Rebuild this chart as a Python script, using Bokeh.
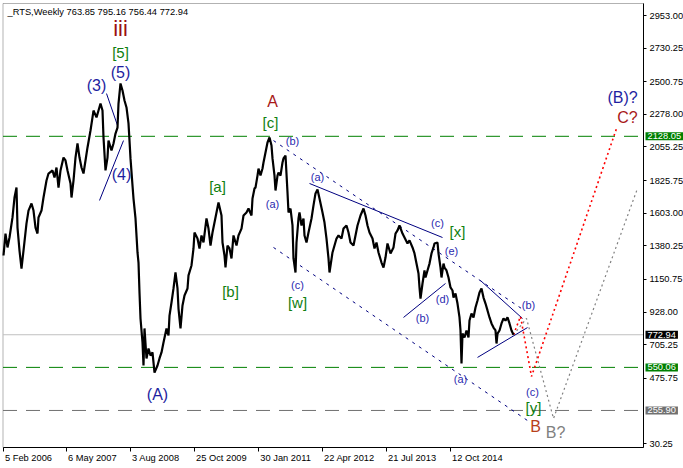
from bokeh.plotting import figure
from bokeh.models import Range1d, FixedTicker, PrintfTickFormatter, Label, ColumnDataSource, BoxAnnotation
from bokeh.core.properties import value
from bokeh.embed import file_html
from bokeh.resources import INLINE

# ---- weekly price path (bar index from 5 Feb 2006, price) ----
bars = [0, 2, 4, 6, 9, 11, 13, 14, 16, 18, 20, 23, 25, 28, 30, 32, 34, 35, 38, 40, 43, 45, 49, 51, 53, 55, 57, 60, 62, 64,
        67, 68, 70, 72, 74, 76, 78, 80, 82, 84, 87, 89, 90, 93, 95, 97, 99, 100, 102, 104, 105, 108, 110, 112, 114, 115, 117, 119, 121, 123,
        125, 126, 127, 129, 130, 132, 134, 135, 136, 137, 139, 140, 141, 143, 145, 147, 149, 151, 154, 156, 158, 160, 163, 165, 166, 168, 170, 172, 174, 175,
        177, 179, 181, 184, 185, 188, 190, 191, 194, 196, 198, 200, 203, 205, 207, 209, 211, 213, 215, 218, 219, 221, 222, 224, 226, 228, 230, 233, 235, 238,
        240, 243, 245, 248, 249, 251, 252, 254, 255, 257, 259, 260, 262, 264, 266, 268, 269, 271, 272, 274, 275, 277, 279, 280, 282, 284, 285, 287, 289, 290,
        292, 293, 295, 296, 298, 300, 301, 303, 305, 308, 310, 312, 314, 316, 319, 321, 323, 325, 326, 329, 331, 333, 335, 338, 340, 343, 345, 347, 350, 352,
        354, 357, 360, 362, 364, 366, 369, 371, 373, 375, 378, 380, 382, 384, 387, 390, 392, 394, 396, 399, 401, 404, 406, 409, 411, 413, 415, 416, 417, 419,
        421, 422, 424, 426, 428, 430, 431, 434, 435, 437, 438, 440, 441, 443, 445, 447, 449, 450, 452, 454, 456, 457, 458, 459, 461, 463, 465, 466, 468, 470,
        472, 474, 476, 478, 480, 482, 484, 486, 488, 490, 492, 493, 494, 496, 498, 500, 502, 504, 506, 508, 510]
prices = [1314, 1464, 1369, 1437, 1574, 1710, 1778, 1505, 1348, 1225, 1348, 1533, 1621, 1669, 1621, 1505, 1464, 1574, 1621, 1710, 1826, 1874, 1895, 1847, 1915, 1778, 1895, 1983, 1963, 1895,
          1806, 1710, 1826, 1983, 2079, 1983, 1915, 1874, 1963, 2052, 2168, 2257, 2304, 2257, 2304, 2352, 2304, 2120, 1895, 1983, 2099, 2031, 2079, 2147, 2188, 2352, 2489, 2441, 2373, 2325,
          2216, 2099, 1977, 1792, 1703, 1567, 1335, 1266, 1061, 884, 720, 563, 816, 611, 679, 631, 652, 515, 563, 611, 652, 720, 816, 768, 904, 993, 1089, 1198, 1089, 952,
          816, 973, 1041, 1089, 1178, 1246, 1362, 1471, 1430, 1362, 1451, 1403, 1567, 1498, 1382, 1471, 1539, 1608, 1676, 1587, 1403, 1314, 1232, 1382, 1362, 1294, 1451, 1382, 1451, 1498,
          1587, 1608, 1635, 1587, 1703, 1772, 1778, 1860, 1908, 1860, 1908, 1949, 2017, 2086, 2120, 2065, 1977, 1860, 1758, 1860, 1881, 1860, 1949, 1977, 1997, 1744, 1608, 1635, 1519, 1294,
          1198, 1403, 1567, 1608, 1519, 1567, 1451, 1403, 1471, 1567, 1656, 1738, 1765, 1703, 1608, 1539, 1430, 1294, 1198, 1335, 1382, 1430, 1451, 1430, 1498, 1519, 1471, 1403, 1382, 1451,
          1519, 1587, 1635, 1587, 1519, 1471, 1430, 1362, 1403, 1335, 1266, 1232, 1300, 1396, 1328, 1369, 1464, 1485, 1519, 1464, 1437, 1396, 1417, 1369, 1328, 1259, 1191, 1096, 1020, 1123,
          1212, 1164, 1212, 1259, 1328, 1369, 1396, 1403, 1328, 1232, 1164, 1259, 1232, 1212, 1164, 1096, 1075, 1027, 1055, 986, 891, 802, 577, 781, 754, 802, 754, 870, 918, 891,
          959, 1007, 1061, 1089, 1027, 986, 939, 891, 850, 822, 802, 713, 781, 802, 850, 884, 870, 891, 850, 802, 772.94]

title_text = "_RTS,Weekly  763.85 795.16 756.44 772.94"

date_ticks = [0, 63, 127, 191, 255, 319, 383, 447]
date_labels = ["5 Feb 2006", "6 May 2007", "3 Aug 2008", "25 Oct 2009", "30 Jan 2011",
               "22 Apr 2012", "21 Jul 2013", "12 Oct 2014"]
price_ticks = [30.25, 475.75, 705.25, 928.00, 1150.75, 1380.25, 1603.00, 1825.75,
               2055.25, 2278.00, 2500.75, 2730.25, 2953.00]

level_values = [2128.05, 550.06, 255.90]
level_kinds = ["green", "green", "gray"]
last_close = 772.94

# Elliott wave labels (text, bar, price, degree)
wave_text = ["iii", "[5]", "(5)", "(3)", "(4)", "(A)", "[a]", "[b]", "A", "[c]", "(b)", "(a)", "(a)", "(c)",
             "[w]", "(c)", "[x]", "(e)", "(d)", "(b)", "(b)", "(a)", "(c)", "[y]", "B", "B?", "(B)?", "C?"]
wave_bar = [117, 117, 117, 93, 118, 154, 214, 227, 269, 267, 289, 269, 314, 294,
            294, 434, 454, 448, 439, 419, 525, 457, 529, 530, 532, 552, 619, 624]
wave_price = [2864, 2700, 2564, 2475, 1867, 365, 1785, 1068, 2366, 2222, 2099, 1669, 1847, 1116,
              993, 1533, 1478, 1348, 1014, 884, 973, 474, 385, 276, 146, 105, 2393, 2256]
wave_degree = ["minor", "minute", "inter", "inter", "inter", "inter", "minute", "minute", "primary", "minute",
               "small", "small", "small", "small", "minute", "small", "minute", "small", "small", "small",
               "small", "small", "small", "minute", "primaryB", "alt", "inter", "primary"]

# trend lines (bar0, price0, bar1, price1)
solid_x0 = [103, 96, 306, 400, 477, 474]
solid_y0 = [2420, 1690, 1806, 891, 1143, 618]
solid_x1 = [114, 120, 439, 442, 519, 524]
solid_y1 = [2202, 2099, 1437, 1123, 884, 822]
chan_x0 = [270, 270]
chan_y0 = [2099, 1369]
chan_x1 = [518, 524]
chan_y1 = [952, 187]

# projections
red_bars = [510, 517, 528, 613]
red_prices = [772.94, 898, 488, 2181]
gray_bars = [510, 523, 550, 634]
gray_prices = [772.94, 884, 201, 1772]

# ---- layout / styles ----
FONT = "Liberation Sans"
FS = 9.3
W, H = 683, 468
BAR0_PX = 3                 # canvas x of bar 0 (1 px per weekly bar)
PRICE_PER_PX = 6.829
REF_PRICE, REF_PX = 30.25, 443
X_START, X_END = -BAR0_PX, W - BAR0_PX
Y_START = REF_PRICE - (H - REF_PX) * PRICE_PER_PX
Y_END = REF_PRICE + REF_PX * PRICE_PER_PX
LEFT_X, AXIS_X = -0.5, 640  # chart border left and price axis position (bars)
AXIS_Y, Y_TOP = 2.9, 3035   # time axis price level and top border
BARS_PER_PX = 1.0

# approximate Liberation Sans advance widths (em) to start date labels at their tick
CHAR_W = {" ": 0.278, "F": 0.611, "M": 0.833, "A": 0.667, "O": 0.778, "J": 0.5,
          "e": 0.556, "b": 0.556, "a": 0.556, "y": 0.5, "u": 0.556, "g": 0.556,
          "c": 0.5, "t": 0.278, "n": 0.556, "p": 0.556, "r": 0.333, "l": 0.222}


def text_px(s):
    return sum(CHAR_W.get(ch, 0.556) for ch in s) * FS


label_pos = [round(t + (text_px(l) / 2 + 1.5) * BARS_PER_PX, 3) for t, l in zip(date_ticks, date_labels)]

degree_style = {
    "minor": ("#9A1010", "22px"),
    "minute": ("#108010", "15px"),
    "inter": ("#1E1EA0", "16px"),
    "primary": ("#A81818", "16px"),
    "primaryB": ("#B8401A", "16px"),
    "alt": ("#808080", "16px"),
    "small": ("#2A2AB0", "11px"),
}
level_style = {"green": "#008000", "gray": "#707070"}

p = figure(width=W, height=H, x_range=Range1d(X_START, X_END), y_range=Range1d(Y_START, Y_END),
           y_axis_location="right", output_backend="svg", toolbar_location=None, min_border=0,
           min_border_left=0, min_border_top=0, min_border_right=0, min_border_bottom=0)
p.xgrid.visible = False
p.ygrid.visible = False
p.outline_line_color = None
p.background_fill_color = "white"
p.border_fill_color = "white"

# chart border (top / left)
p.add_layout(BoxAnnotation(left=LEFT_X, right=AXIS_X, bottom=AXIS_Y, top=Y_TOP, fill_alpha=0,
                           line_color="black", line_width=1, level="underlay"))

xa = p.xaxis[0]
xa.fixed_location = AXIS_Y
xa.ticker = FixedTicker(ticks=label_pos, minor_ticks=date_ticks)
xa.major_label_overrides = {t: l for t, l in zip(label_pos, date_labels)}
xa.major_label_orientation = "horizontal"
xa.major_label_standoff = 1
xa.major_tick_out = 0
xa.major_tick_in = 0
xa.major_tick_line_color = None
xa.minor_tick_out = 4
xa.minor_tick_in = 0
xa.minor_tick_line_color = "black"
xa.bounds = (LEFT_X, AXIS_X)
xa.axis_line_color = "black"
xa.major_label_text_font = FONT
xa.major_label_text_font_size = "%.1fpx" % FS
xa.major_label_text_color = "black"

ya = p.yaxis[0]
ya.fixed_location = AXIS_X
ya.bounds = (AXIS_Y, Y_TOP)
ya.ticker = FixedTicker(ticks=price_ticks)
ya.formatter = PrintfTickFormatter(format="%.2f")
ya.major_tick_out = 3
ya.major_tick_in = 0
ya.major_label_standoff = 3
ya.minor_tick_line_color = None
ya.axis_line_color = "black"
ya.major_label_text_font = FONT
ya.major_label_text_font_size = "%.1fpx" % FS
ya.major_label_text_color = "black"

# horizontal levels (from chart left edge to the price axis)
for lv, kind in zip(level_values, level_kinds):
    p.segment([LEFT_X], [lv], [AXIS_X], [lv], line_color=level_style[kind], line_width=1, line_dash="14 9")
p.segment([LEFT_X], [last_close], [AXIS_X], [last_close], line_color="#C0C0C0", line_width=1)

# trend lines
p.segment(solid_x0, solid_y0, solid_x1, solid_y1, line_color="#000080", line_width=1)
p.segment(chan_x0, chan_y0, chan_x1, chan_y1, line_color="#000080", line_width=1, line_dash="3 5")

# projections
p.line(gray_bars, gray_prices, line_color="#808080", line_width=1.2, line_dash="2 3")
p.line(red_bars, red_prices, line_color="#FF0000", line_width=1.6, line_dash="2 3")

# price
p.line(bars, prices, line_color="black", line_width=2.2)

# wave labels
src = ColumnDataSource(dict(
    x=wave_bar, y=wave_price, text=wave_text,
    color=[degree_style[d][0] for d in wave_degree],
    size=[degree_style[d][1] for d in wave_degree],
))
p.text(x="x", y="y", text="text", text_color="color", text_font_size="size",
       text_align="center", text_baseline="middle", text_font=value(FONT), source=src)

# title
p.add_layout(Label(x=0, y=Y_TOP, x_offset=4, y_offset=-3, text=title_text,
                   text_font=FONT, text_font_size="%.1fpx" % FS, text_color="black",
                   text_align="left", text_baseline="top"))

# price level tags on the price axis
tag_values = level_values + [last_close]
tag_colors = [level_style[k] for k in level_kinds] + ["black"]
for lv, col in zip(tag_values, tag_colors):
    p.add_layout(Label(x=AXIS_X, y=lv, x_offset=2, text="%.2f" % lv, text_font=FONT,
                       text_font_size="%.1fpx" % FS, text_color="white", text_align="left",
                       text_baseline="middle", background_fill_color=col,
                       padding=(2, 1)))

open("out.html", "w").write(file_html(p, INLINE))
